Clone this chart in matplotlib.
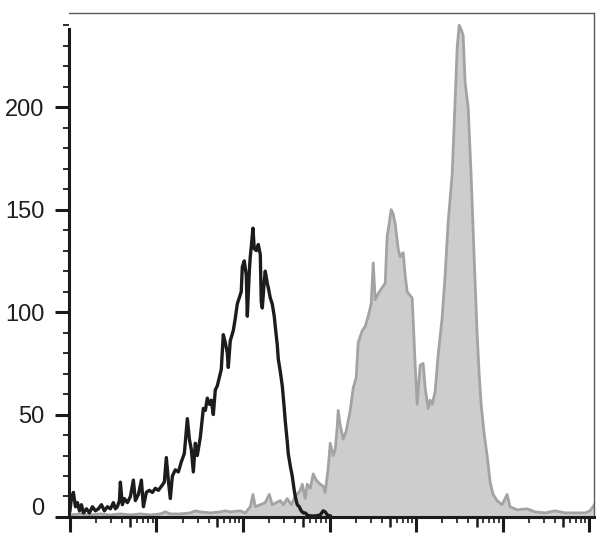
import numpy as np
import matplotlib
matplotlib.use("Agg")
import matplotlib.pyplot as plt
from matplotlib.ticker import NullFormatter

# ---- data (x in log10 decades of fluorescence intensity, y = event count) ----
black_log = [0.000, 0.017, 0.040, 0.064, 0.087, 0.110, 0.133, 0.156, 0.191, 0.225,
             0.260, 0.294, 0.329, 0.364, 0.398, 0.433, 0.468, 0.502, 0.525, 0.548,
             0.572, 0.583, 0.606, 0.629, 0.664, 0.699, 0.733, 0.756, 0.791, 0.826,
             0.849, 0.883, 0.918, 0.953, 0.987, 1.022, 1.057, 1.091, 1.114, 1.137,
             1.160, 1.184, 1.218, 1.253, 1.288, 1.322, 1.357, 1.380, 1.403, 1.426,
             1.449, 1.472, 1.507, 1.542, 1.565, 1.588, 1.611, 1.634, 1.657, 1.680,
             1.703, 1.726, 1.749, 1.772, 1.796, 1.819, 1.830, 1.853, 1.888, 1.911,
             1.934, 1.957, 1.980, 1.992, 2.015, 2.038, 2.050, 2.073, 2.084, 2.096,
             2.115, 2.130, 2.154, 2.177, 2.200, 2.211, 2.223, 2.246, 2.257, 2.281,
             2.292, 2.315, 2.338, 2.361, 2.373, 2.396, 2.408, 2.431, 2.454, 2.477,
             2.488, 2.511, 2.523, 2.546, 2.569, 2.592, 2.604, 2.627, 2.650, 2.673,
             2.696, 2.719, 2.742, 2.777, 2.835, 2.893, 2.927, 2.950, 2.974, 3.008]
black_count = [3, 9, 12, 5, 7, 3, 6, 2, 4, 2,
               5, 3, 4, 6, 3, 5, 4, 7, 4, 5,
               8, 17, 6, 9, 7, 10, 18, 8, 11, 18,
               5, 12, 13, 12, 14, 13, 15, 17, 29, 18,
               9, 20, 23, 22, 27, 31, 48, 38, 33, 22,
               36, 30, 39, 53, 52, 58, 55, 57, 50, 62,
               64, 68, 72, 89, 85, 80, 73, 86, 91, 97,
               104, 107, 110, 122, 125, 118, 98, 120, 127, 132,
               141, 131, 130, 133, 128, 105, 102, 115, 120, 114,
               112, 107, 104, 98, 93, 84, 77, 71, 64, 53,
               47, 37, 31, 25, 20, 13, 10, 6, 5, 3,
               2, 2, 1, 0.5, 0.5, 1, 3, 2.5, 1, 0.5]

gray_log = [0.000, 0.121, 0.237, 0.352, 0.468, 0.583, 0.699, 0.814, 0.930, 1.045,
            1.103, 1.160, 1.276, 1.391, 1.449, 1.507, 1.622, 1.738, 1.796, 1.853,
            1.969, 2.027, 2.084, 2.115, 2.142, 2.200, 2.257, 2.304, 2.338, 2.384,
            2.431, 2.465, 2.511, 2.558, 2.604, 2.662, 2.685, 2.719, 2.742, 2.777,
            2.812, 2.846, 2.893, 2.927, 2.950, 2.985, 3.008, 3.043, 3.066, 3.089,
            3.100, 3.123, 3.158, 3.193, 3.239, 3.274, 3.308, 3.331, 3.378, 3.412,
            3.447, 3.481, 3.505, 3.528, 3.562, 3.609, 3.643, 3.666, 3.689, 3.712,
            3.735, 3.759, 3.793, 3.816, 3.851, 3.874, 3.897, 3.932, 3.955, 3.990,
            4.013, 4.047, 4.082, 4.105, 4.140, 4.163, 4.186, 4.220, 4.255, 4.301,
            4.336, 4.371, 4.417, 4.451, 4.475, 4.498, 4.521, 4.544, 4.567, 4.602,
            4.636, 4.671, 4.705, 4.729, 4.752, 4.786, 4.821, 4.856, 4.890, 4.936,
            4.994, 5.029, 5.052, 5.086, 5.167, 5.283, 5.375, 5.491, 5.606, 5.722,
            5.837, 5.953, 6.010, 6.045, 6.060]
gray_count = [1, 1.5, 1, 1.5, 1, 1.5, 1, 1.5, 1, 1.5,
              2.5, 1.5, 1.5, 2, 3, 2.5, 2, 2.5, 3, 2.5,
              3, 2, 5, 11, 5, 6, 7, 11, 6, 7,
              8, 6, 9, 6, 10, 13, 16, 9, 16, 14,
              21, 18, 16, 15, 12, 24, 36, 30, 33, 44,
              52, 45, 38, 42, 52, 63, 68, 85, 91, 93,
              98, 104, 124, 106, 109, 112, 114, 137, 143, 150,
              148, 143, 131, 127, 129, 118, 110, 108, 107, 74,
              55, 74, 75, 63, 53, 57, 55, 61, 79, 97,
              118, 144, 167, 203, 229, 240, 238, 235, 212, 200,
              167, 127, 90, 70, 55, 41, 30, 17, 11, 8,
              6, 9, 11, 5, 3.5, 4, 2.5, 2, 3, 2,
              2, 2, 3, 5, 6]

y_major = [0, 50, 100, 150, 200]
y_labels = ["0", "50", "100", "150", "200"]
y_minor = list(range(10, 250, 10))

x_decades = [0, 1, 2, 3, 4, 5, 6]

# ---- figure ----
plt.rcParams['font.family'] = ['Liberation Sans', 'DejaVu Sans']
fig = plt.figure(figsize=(6.08, 5.45), dpi=100)
ax = fig.add_axes([0.1143, 0.0514, 0.8632, 0.9248])

gx = np.power(10.0, gray_log)
bx = np.power(10.0, black_log)

ax.fill_between(gx, 0, gray_count, facecolor='#cdcdcd', edgecolor='none', zorder=1)
ax.plot(gx, gray_count, color='#a3a3a3', lw=2.0, zorder=2)
ax.plot(bx, black_count, color='#1c1c1c', lw=2.4, zorder=3)

ax.set_xscale('log')
ax.set_xlim(10 ** -0.005, 10 ** 6.06)
ax.set_ylim(0, 246)

# spines
for s in ['top', 'right']:
    ax.spines[s].set_color('#5a5a5a')
    ax.spines[s].set_linewidth(1.0)
ax.spines['left'].set_color('#1a1a1a')
ax.spines['left'].set_linewidth(2.2)
ax.spines['left'].set_bounds(0, 238)
ax.spines['bottom'].set_color('#1a1a1a')
ax.spines['bottom'].set_linewidth(2.2)

# y ticks
ax.set_yticks(y_major)
ax.set_yticklabels(["" if l == "0" else l for l in y_labels])
ax.set_yticks(y_minor, minor=True)
ax.tick_params(axis='y', which='major', direction='out', length=10, width=2.2,
               pad=8, labelsize=17, labelcolor='#1e1e1e', color='#1a1a1a')
ax.tick_params(axis='y', which='minor', direction='out', length=4, width=1.3,
               color='#1a1a1a')
ax.annotate("0", xy=(0, 0), xycoords=('axes fraction', 'data'),
            xytext=(-18, 5.5), textcoords='offset points', ha='right', va='center',
            fontsize=17, color='#1e1e1e')

# x ticks: decades (long), 5x (medium), others (short)
majors = [10.0 ** k for k in x_decades]
mediums = [5 * 10.0 ** k for k in x_decades[:-1]]
minors = [m * 10.0 ** k for k in x_decades[:-1] for m in (2, 3, 4, 6, 7, 8, 9)]
ax.set_xticks(majors + mediums)
ax.set_xticklabels([""] * (len(majors) + len(mediums)))
ax.set_xticks(minors, minor=True)
ax.xaxis.set_minor_formatter(NullFormatter())
ax.tick_params(axis='x', which='major', direction='out', length=11, width=2.2,
               color='#1a1a1a')
ax.tick_params(axis='x', which='minor', direction='out', length=4.5, width=1.2,
               color='#1a1a1a')
for i, t in enumerate(ax.xaxis.get_major_ticks()):
    if i >= len(majors):
        t.tick1line.set_markersize(7.5)
        t.tick1line.set_markeredgewidth(1.8)

fig.savefig("out.png", dpi=100)
